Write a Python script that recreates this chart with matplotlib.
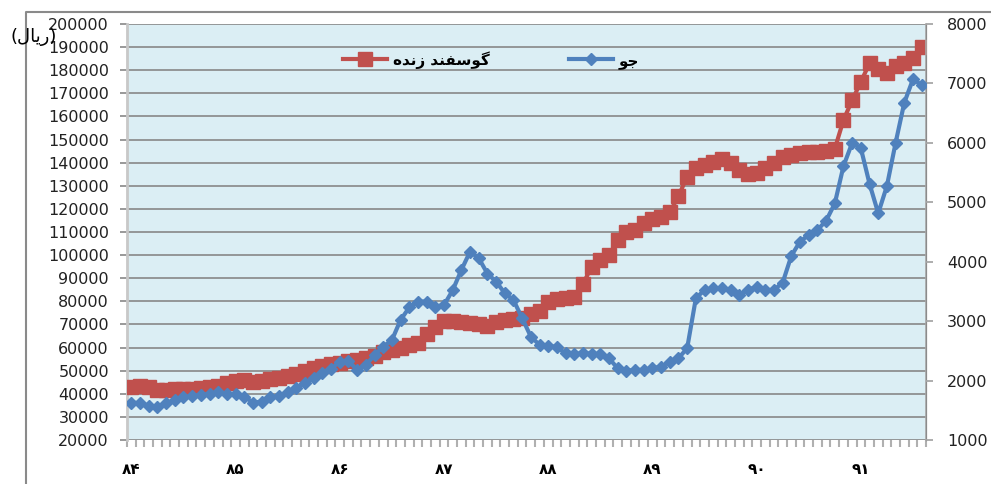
import matplotlib
matplotlib.use("Agg")
import matplotlib.pyplot as plt
from matplotlib.lines import Line2D
import numpy as np

# ---- data ----
sheep = [43000, 43500, 43000, 41500, 41500, 42000, 42000, 42000, 42500, 43000,
         43500, 44500, 45500, 46000, 45000, 45500, 46500, 47000, 47500, 48500,
         50000, 51000, 52000, 53000, 53500, 54000, 54500, 55500, 56500, 58000,
         59000, 60000, 61000, 62000, 66000, 69000, 71500, 71500, 71000, 70500,
         70000, 69500, 71000, 72000, 72500, 73000, 74500, 76000, 79500, 81000,
         81500, 82000, 87500, 95000, 98000, 100000, 106500, 110000, 111000, 114000,
         115500, 116500, 118500, 125500, 134000, 137500, 139000, 140500, 141500, 140000,
         137000, 135000, 135500, 137500, 140000, 142500, 143500, 144000, 144500, 144500,
         145000, 146000, 158500, 167000, 175000, 183000, 180500, 179000, 182000, 183000,
         185500, 190000]
barley = [1630, 1620, 1575, 1550, 1615, 1670, 1720, 1740, 1760, 1775,
          1810, 1775, 1775, 1730, 1630, 1645, 1720, 1740, 1810, 1870,
          1955, 2040, 2120, 2200, 2320, 2330, 2180, 2260, 2430, 2570,
          2680, 3020, 3230, 3330, 3330, 3245, 3270, 3520, 3860, 4170,
          4060, 3800, 3665, 3470, 3355, 3050, 2740, 2600, 2590, 2560,
          2460, 2450, 2460, 2455, 2445, 2375, 2205, 2165, 2180, 2180,
          2205, 2235, 2320, 2375, 2545, 3385, 3525, 3550, 3550, 3520,
          3440, 3525, 3580, 3525, 3525, 3650, 4100, 4340, 4450, 4535,
          4690, 4980, 5610, 6000, 5910, 5310, 4815, 5275, 6000, 6675,
          7070, 6975]
year_labels = ["۸۴", "۸۵", "۸۶", "۸۷", "۸۸", "۸۹", "۹۰", "۹۱"]
# visual-order, pre-shaped Persian strings
sheep_label = "ﻩﺪﻧﺯ ﺪﻨﻔﺳﻮﮔ"   # گوسفند زنده
barley_label = "ﻮﺟ"            # جو
unit_label = "(ﻝﺎﯾﺭ)"           # (ریال)

plt.rcParams['font.family'] = ['DejaVu Sans']

RED = "#C0504D"
BLUE = "#4F81BD"
GRID = "#878787"

fig = plt.figure(figsize=(9.91, 4.84), dpi=100)
pos = [127/991, 1-440/484, (926-127)/991, (440-24)/484]

bg = fig.add_axes(pos)
bg.set_facecolor("#DBEEF4")
bg.set_xticks([]); bg.set_yticks([])
for s in bg.spines.values():
    s.set_visible(False)
bg.set_zorder(0)

ax = fig.add_axes(pos)
ax.set_zorder(1)
ax.patch.set_visible(False)

x = np.arange(len(sheep))
ax2 = ax.twinx()
ax2.set_zorder(2)
ax2.patch.set_visible(False)

ax.set_ylim(20000, 200000)
ax.set_yticks(np.arange(20000, 200001, 10000))
ax.set_xlim(-0.5, len(sheep) - 0.5)
ax.grid(axis='y', color=GRID, linewidth=1.2)
ax.set_axisbelow(True)

ax2.set_ylim(1000, 8000)
ax2.set_yticks(np.arange(1000, 8001, 1000))

ln1, = ax.plot(x, sheep, color=RED, lw=3, marker='s', ms=10.5, mec=RED, mfc=RED,
               zorder=3, label=sheep_label)
ln2, = ax2.plot(x, barley, color=BLUE, lw=3, marker='D', ms=6.5, mec=BLUE, mfc=BLUE,
                zorder=4, label=barley_label)

# x ticks
ax.set_xticks(np.arange(0, len(sheep), 12))
ax.set_xticklabels(year_labels, fontsize=11, fontweight='bold')
ax.set_xticks(np.arange(-0.5, len(sheep), 1), minor=True)
ax.tick_params(axis='x', which='major', length=0, pad=16)
ax.tick_params(axis='x', which='minor', length=5, color="#B0B0B0", width=1.5)

ax.tick_params(axis='y', length=5, color=GRID, width=1.2, pad=8,
               labelsize=11.5, labelcolor="#222222")
ax2.tick_params(axis='y', length=5, color="#A0A0A0", width=1.2, pad=10,
                labelsize=11.5, labelcolor="#222222")

for a in (ax, ax2):
    a.spines['top'].set_visible(False)
    a.spines['bottom'].set_visible(False)
ax.spines['left'].set_color("#C8C8C8")
ax.spines['left'].set_linewidth(2)
ax2.spines['left'].set_visible(False)
ax2.spines['right'].set_color("#A8A8A8")
ax2.spines['right'].set_linewidth(1.2)

leg = fig.legend([ln1, ln2], [sheep_label, barley_label], ncol=2, frameon=False,
                 loc='center left', bbox_to_anchor=(343/991, 1-60/484),
                 borderpad=0, borderaxespad=0,
                 handlelength=2.9, columnspacing=5.2, handletextpad=0.35,
                 prop={'size': 11, 'weight': 'bold'})

fig.text(10/991, 1-37/484, unit_label, fontsize=13, ha='left', va='center')

# outer chart border (left and top)
fig.add_artist(Line2D([26/991, 26/991, 1], [0, 1-12/484, 1-12/484],
                      transform=fig.transFigure, color="#8A8A8A", lw=1.5))

fig.savefig("out.png", dpi=100)
